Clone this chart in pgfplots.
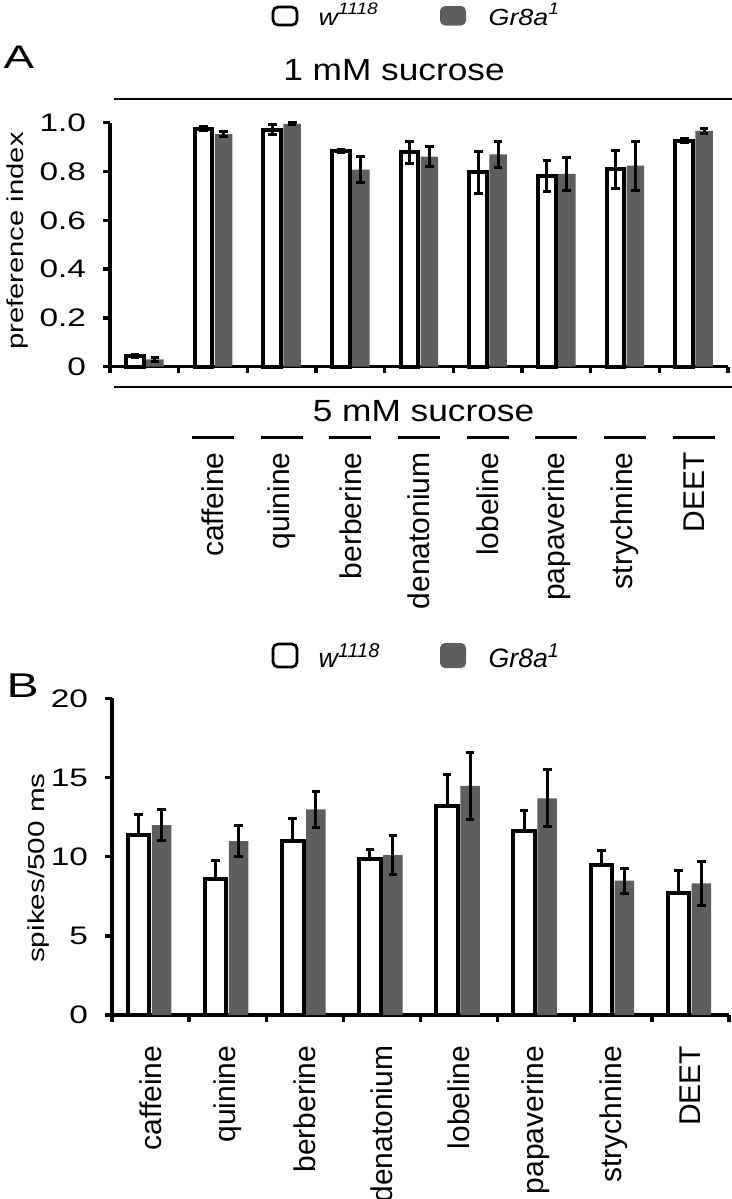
\documentclass[border=0pt]{standalone}
\usepackage{fontspec}
\setmainfont{Liberation Sans}
\setsansfont{Liberation Sans}
\usepackage{graphicx}
\usepackage{pgfplots}
\usepackage{pgfplotstable}
\pgfplotsset{compat=1.18}
\definecolor{Bargrey}{HTML}{5E5E5E}
% the figure's lettering is wider than plain Arial
\newcommand\sx[2]{\scalebox{#1}[1]{#2}}
\newcommand\tk[1]{\sx{1.32}{#1}}

\pgfplotsset{
  panel/.style={
    scale only axis, axis lines=left, axis line style={-, line width=1pt},
    ymin=0, clip=false,
    tick align=outside, major tick length=2pt,
    tick style={line width=1pt, black},
    xticklabels={},
    /pgf/number format/assume math mode=true,
    yticklabel style={anchor=east, inner sep=0pt, xshift=-5pt,
      font=\fontsize{7.6}{9}\selectfont},
  },
  errs/.style={error bars/.cd, y dir=#1, y explicit,
    error bar style={line width=0.9pt, black},
    error mark options={rotate=90, line width=0.9pt, mark size=1.3pt, black}},
}

% panel A: preference index (white = w1118, grey = Gr8a1)
\pgfplotstableread{
x   w      we     g      ge
0   0.045  0.006  0.030  0.009
1   0.975  0.008  0.953  0.010
2   0.972  0.020  0.995  0.004
3   0.884  0.008  0.808  0.055
4   0.878  0.044  0.861  0.041
5   0.796  0.088  0.870  0.052
6   0.782  0.065  0.790  0.068
7   0.809  0.077  0.824  0.100
8   0.926  0.008  0.967  0.010
}\prefdata

% panel B: spikes/500 ms
\pgfplotstableread{
x   w      we     g      ge
0   11.38  1.30   12.00  0.97
1   8.57   1.16   10.99  1.00
2   10.99  1.39   12.99  1.15
3   9.87   0.60   10.10  1.24
4   13.18  1.98   14.47  2.10
5   11.60  1.30   13.69  1.80
6   9.49   0.89   8.48   0.78
7   7.72   1.38   8.32   1.39
}\spikedata

\begin{document}
\begin{tikzpicture}
\clip (0,0) rectangle (219.6pt,-359.7pt);

% ---------- A ----------
\begin{axis}[panel,
  at={(33pt,-110.01pt)}, anchor=south west,
  width=185.4pt, height=73.2pt,
  xmin=-0.5, xmax=8.5, ymax=1,
  xtick={-0.5,0.5,...,8.5},
  ytick={0,0.2,0.4,0.6,0.8,1},
  yticklabels={\tk{0},\tk{0.2},\tk{0.4},\tk{0.6},\tk{0.8},\tk{1.0}},
]
\addplot[ybar, bar width=5.25pt, bar shift=0pt, fill=white, draw=black, line width=1.2pt, errs=both]
  table[x expr=\thisrow{x}-0.138, y=w, y error=we] {\prefdata};
\addplot[ybar, bar width=5.25pt, bar shift=0pt, fill=Bargrey, draw=none, errs=both]
  table[x expr=\thisrow{x}+0.153, y=g, y error=ge] {\prefdata};
\end{axis}

% ---------- B ----------
\begin{axis}[panel,
  at={(33.6pt,-304.5pt)}, anchor=south west,
  width=185.1pt, height=95pt,
  xmin=-0.5, xmax=7.5, ymax=20,
  xtick={-0.5,0.5,...,7.5},
  ytick={0,5,10,15,20},
  yticklabels={\tk{0},\tk{5},\tk{10},\tk{15},\tk{20}},
]
\addplot[ybar, bar width=6.45pt, bar shift=0pt, fill=white, draw=black, line width=1.2pt, errs=plus]
  table[x expr=\thisrow{x}-0.156, y=w, y error=we] {\spikedata};
\addplot[ybar, bar width=5.85pt, bar shift=0pt, fill=Bargrey, draw=none, errs=both]
  table[x expr=\thisrow{x}+0.143, y=g, y error=ge] {\spikedata};
\end{axis}

\begin{scope}[x=0.3pt,y=-0.3pt]
% legend A (a little squeezed, as in the figure)
\draw[line width=0.8pt, rounded corners=1.5pt, fill=white] (273,7) rectangle (297,25);
\fill[Bargrey, rounded corners=1.5pt] (440,6) rectangle (466,25.5);
\node[anchor=base west, inner sep=0pt, font=\fontsize{7}{8}\selectfont\itshape] at (318,25) {\sx{1.15}{w\textsuperscript{1118}}};
\node[anchor=base west, inner sep=0pt, font=\fontsize{7}{8}\selectfont\itshape] at (488,25) {\sx{1.15}{Gr8a\textsuperscript{1}}};
% legend B
\draw[line width=0.8pt, rounded corners=1.5pt, fill=white] (273,644) rectangle (297,667);
\fill[Bargrey, rounded corners=1.5pt] (440,643) rectangle (466,668);
\node[anchor=base west, inner sep=0pt, font=\fontsize{8}{10}\selectfont\itshape] at (318,667) {w\textsuperscript{1118}};
\node[anchor=base west, inner sep=0pt, font=\fontsize{8}{10}\selectfont\itshape] at (488,667) {Gr8a\textsuperscript{1}};
% panel letters
\node[anchor=base west, inner sep=0pt, font=\fontsize{9.8}{12}\selectfont] at (3,68) {\sx{1.4}{A}};
\node[anchor=base west, inner sep=0pt, font=\fontsize{10.3}{12}\selectfont] at (6,697) {\sx{1.4}{B}};
% sucrose headers
\node[anchor=base, inner sep=0pt, font=\fontsize{9.2}{11}\selectfont] at (394,80) {\sx{1.15}{1 mM sucrose}};
\draw[line width=0.7pt] (113.5,99.3) -- (732,99.3);
\draw[line width=0.7pt] (114,386.7) -- (732,386.7);
\node[anchor=base, inner sep=0pt, font=\fontsize{9.2}{11}\selectfont] at (423.5,421.7) {\sx{1.15}{5 mM sucrose}};
% axis titles
\node[rotate=90, inner sep=0pt, font=\fontsize{6.9}{8}\selectfont] at (17.5,241) {\sx{1.27}{preference index}};
\node[rotate=90, inner sep=0pt, font=\fontsize{6.9}{8}\selectfont] at (39,868) {\sx{1.29}{spikes/500 ms}};
% category names
\foreach \n [count=\i] in {caffeine,quinine,berberine,denatonium,lobeline,papaverine,strychnine,DEET}{
  \pgfmathsetmacro\cx{110+68.67*(\i+0.5)}
  \draw[line width=0.8pt] (\cx-21,437.3) -- (\cx+21,437.3);
  \node[rotate=90, anchor=east, inner sep=0pt, font=\fontsize{9}{11}\selectfont] at (\cx,451.7) {\n};
  \pgfmathsetmacro\bx{112+77.125*(\i-0.5)}
  \node[rotate=90, anchor=east, inner sep=0pt, font=\fontsize{9}{11}\selectfont] at (\bx,1045) {\n};
}
\end{scope}
\end{tikzpicture}
\end{document}
